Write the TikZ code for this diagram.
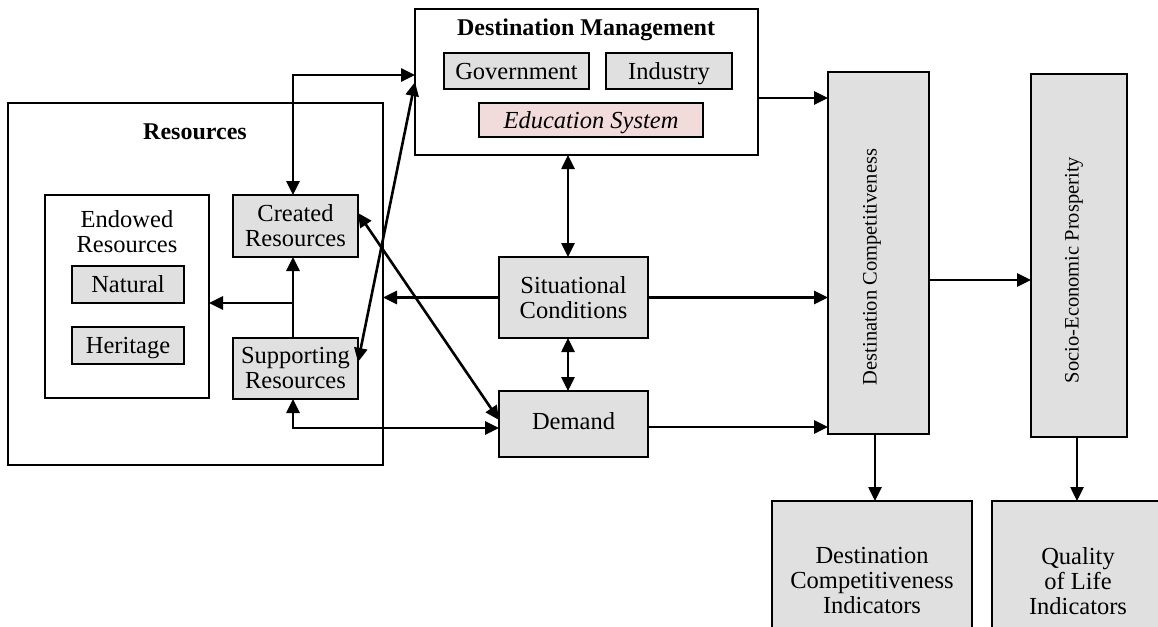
\documentclass[tikz,border=0pt]{standalone}
\usepackage{fontspec}
\setmainfont{Liberation Serif}
\usetikzlibrary{arrows.meta}
\definecolor{boxgray}{HTML}{E0E0E0}
\definecolor{edupink}{HTML}{F2DCDB}
\tikzset{
  every node/.style={font=\fontsize{24.5}{25}\selectfont, inner sep=0pt, outer sep=0pt},
  plainbox/.style={draw, line width=2pt, fill=white},
  graybox/.style={draw, line width=2pt, fill=boxgray, align=center},
  pinkbox/.style={draw, line width=2pt, fill=edupink, align=center},
  oneline/.style={text height=20pt, text depth=4pt},
  arr/.style={line width=2.6pt, -{Triangle[length=14pt,width=13pt]}},
  darr/.style={line width=2.6pt, {Triangle[length=14pt,width=13pt]}-{Triangle[length=14pt,width=13pt]}},
  rotlabel/.style={rotate=90, font=\fontsize{20.5}{22}\selectfont},
}
\begin{document}
\begin{tikzpicture}[x=1pt,y=-1pt]
\useasboundingbox (0,0) rectangle (1158,626);
\clip (0,0) rectangle (1158,626);
\fill[white] (0,0) rectangle (1158,626);

% Resources
\node[plainbox, minimum width=375pt, minimum height=362pt] (res) at (195.5,284) {};
\node[font=\bfseries\fontsize{24}{25}\selectfont] (restitle) at (195,132) {Resources};
\node[plainbox, minimum width=164pt, minimum height=203pt] (endow) at (127,296.5) {};
\node[align=center] (endowlbl) at (127,232) {Endowed\\Resources};
\node[graybox, oneline, minimum width=112pt, minimum height=37pt] (natural) at (128,284.5) {Natural};
\node[graybox, oneline, minimum width=112pt, minimum height=37pt] (heritage) at (128,345.5) {Heritage};
\node[graybox, minimum width=125pt, minimum height=62pt] (created) at (295.5,226) {Created\\Resources};
\node[graybox, minimum width=125pt, minimum height=61pt] (supporting) at (295.5,368.5) {Supporting\\Resources};

% Destination Management
\node[plainbox, minimum width=343pt, minimum height=146pt] (dm) at (586.5,82) {};
\node[font=\bfseries\fontsize{24}{25}\selectfont] (dmtitle) at (586,30) {Destination Management};
\node[graybox, oneline, minimum width=145pt, minimum height=36pt] (gov) at (516.5,71) {Government};
\node[graybox, oneline, minimum width=126pt, minimum height=36pt] (ind) at (669,71) {Industry};
\node[pinkbox, oneline, minimum width=224pt, minimum height=34pt, font=\itshape\fontsize{24.5}{25}\selectfont] (edu) at (591,120) {Education System};

% Middle
\node[graybox, minimum width=149pt, minimum height=81pt] (sc) at (573.5,297.5) {Situational\\Conditions};
\node[graybox, minimum width=149pt, minimum height=66pt] (demand) at (573.5,424) {};
\node[oneline] (demandlbl) at (573.5,421) {Demand};

% Right columns
\node[graybox, minimum width=101pt, minimum height=362pt] (dc) at (878.5,253) {};
\node[rotlabel] (dclbl) at (872,267) {Destination Competitiveness};
\node[graybox, minimum width=96pt, minimum height=363pt] (sep) at (1079,255.5) {};
\node[rotlabel] (seplbl) at (1074,270) {Socio-Economic Prosperity};
\node[graybox, minimum width=200pt, minimum height=180pt, anchor=north] (dci) at (872,501) {};
\node[align=center] (dcilbl) at (872,581) {Destination\\Competitiveness\\Indicators};
\node[graybox, minimum width=200pt, minimum height=180pt, anchor=north west] (qli) at (992,501) {};
\node[align=center] (qlilbl) at (1078,581) {Quality\\of Life\\Indicators};

% Coordinates
\coordinate (j) at (supporting.north |- natural.south);

% Connectors
\draw[arr] (dm.east |- 0,98) -- (dc.west |- 0,98);
\draw[darr] (dm.south -| 568,0) -- (sc.north -| 568,0);
\draw[darr] (sc.south -| 568,0) -- (demand.north -| 568,0);
\draw[arr] (sc.west) -- (sc.west -| res.east);
\draw[arr] (sc.east) -- (sc.east -| dc.west);
\draw[arr] (demand.east |- 0,427) -- (dc.west |- 0,427);
\draw[arr] (dc.east |- 0,280) -- (sep.west |- 0,280);
\draw[arr] (dc.south -| 875,0) -- (dci.north -| 875,0);
\draw[arr] (sep.south -| 1077,0) -- (qli.north -| 1077,0);

\draw[darr] (created.north -| 293,0) |- (dm.west |- 0,75);
\draw[darr] (supporting.south -| 293,0) |- (demand.west |- 0,428);
\draw[arr] (supporting.north -| 293,0) -- (created.south -| 293,0);
\draw[arr] (j -| 293,0) -- (j -| endow.east);
\draw[darr] (supporting.east |- 0,362) -- (dm.west |- 0,82);
\draw[darr] (created.east |- 0,213) -- (demand.west |- 0,420);
\end{tikzpicture}
\end{document}
